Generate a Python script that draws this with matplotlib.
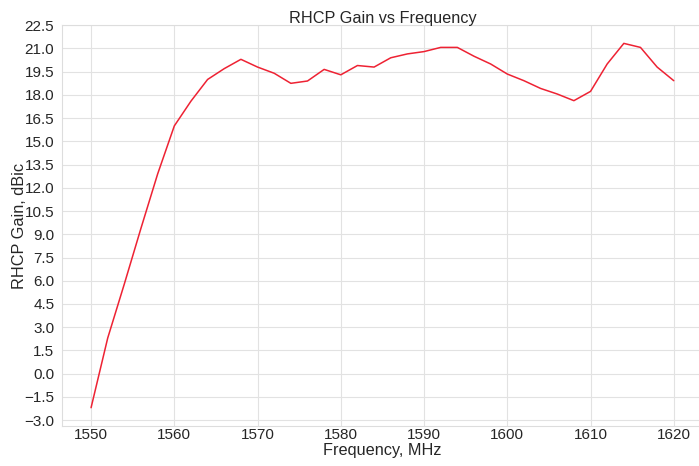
import matplotlib
matplotlib.use("Agg")
import matplotlib.pyplot as plt
import seaborn as sns
from matplotlib.ticker import MultipleLocator

freq = list(range(1550, 1622, 2))
gain = [-2.2, 2.3, 5.8, 9.4, 12.9, 16.0, 17.6, 19.0, 19.7, 20.3,
        19.8, 19.4, 18.75, 18.9, 19.65, 19.3, 19.9, 19.8, 20.4, 20.65,
        20.8, 21.07, 21.07, 20.5, 20.0, 19.35, 18.92, 18.42, 18.06, 17.63,
        18.23, 20.0, 21.33, 21.07, 19.8, 18.92]

sns.set_style("whitegrid")
plt.rcParams['font.family'] = ['Liberation Sans', 'DejaVu Sans']

fig = plt.figure(figsize=(6.99, 4.66), dpi=100)
ax = fig.add_axes([0.0886, 0.086, 0.917, 0.86])
ax.plot(freq, gain, color='#ee2233', linewidth=1.1)
ax.yaxis.set_major_locator(MultipleLocator(1.5))
ax.xaxis.set_major_locator(MultipleLocator(10))
ax.set_title("RHCP Gain vs Frequency", fontsize=11.7, color='#262626', pad=1.2)
ax.set_xlabel("Frequency, MHz", fontsize=11.7, color='#262626')
ax.set_ylabel("RHCP Gain, dBic", fontsize=11.7, color='#262626')
ax.yaxis.set_label_coords(-0.0546, 0.5)
ax.xaxis.set_label_coords(0.5, -0.042)
ax.tick_params(axis='y', labelsize=11, colors='#262626', pad=2)
ax.tick_params(axis='x', labelsize=11, colors='#262626', pad=-2)
for s in ax.spines.values():
    s.set_color('#dddddd')
ax.grid(color='#e2e2e2', linewidth=0.8)
fig.savefig("out.png", dpi=100)
